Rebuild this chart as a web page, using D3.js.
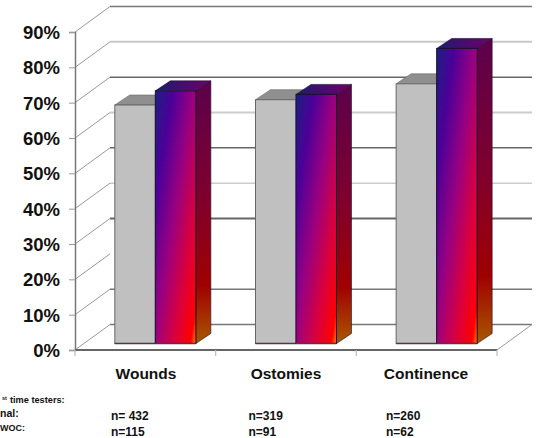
<!DOCTYPE html>
<html>
<head>
<meta charset="utf-8">
<script src="https://cdn.jsdelivr.net/npm/d3@7"></script>
<style>
  html, body { margin: 0; padding: 0; background: #fff; overflow: hidden; }
  text { font-family: "Liberation Sans", Arial, sans-serif; font-weight: bold; fill: #111; }
</style>
</head>
<body>
<script>
// values
const categories = ["Wounds", "Ostomies", "Continence"];
const series1 = [67.5, 69, 73.5];
const series2 = [71.5, 70.5, 83.5];
const ticks = [0, 10, 20, 30, 40, 50, 60, 70, 80, 90];
const line1 = ["n= 432", "n=319", "n=260"];
const line2 = ["n=115", "n=91", "n=62"];
const rowLabels = ["time testers:", "nal:", "WOC:"];

const width = 536, height = 438;
// how far the back wall sits behind the front plane
const wallDx = 35, wallDy = -25.5;
// the bars stand a little way in from the front edge
const barDy = -6.5;
const sideDx = 15, sideDy = -10;

const svg = d3.select("body").append("svg")
  .attr("width", width)
  .attr("height", height)
  .style("display", "block");

const y = d3.scaleLinear().domain([0, 90]).range([350, 32]);
const x = d3.scaleBand().domain(categories).range([85, 507])
  .paddingInner(0.424).paddingOuter(0.212);
const x1 = d3.scaleBand().domain([0, 1]).range([0, x.bandwidth()]);
const floorX = d3.scaleLinear().domain([0, 1]).range([75, 497]);

// gradients
const defs = svg.append("defs");
function gradient(id, stops, x2, y2) {
  const g = defs.append("linearGradient").attr("id", id)
    .attr("x1", 0).attr("y1", 0).attr("x2", x2).attr("y2", y2);
  stops.forEach(s => g.append("stop").attr("offset", s[0]).attr("stop-color", s[1]));
}
gradient("front", [[0, "#1c2080"], [0.22, "#4c0098"], [0.48, "#9a0080"], [0.72, "#d80040"], [0.93, "#ff0000"], [1, "#ff8000"]], 1, 1);
gradient("side", [[0, "#5c004c"], [0.45, "#80002c"], [0.78, "#a00000"], [1, "#a85800"]], 0, 1);
gradient("top", [[0, "#1c1c70"], [1, "#700068"]], 1, 0);

// back wall lines and their slanted ends on the left wall
const lineStyle = {0: ["#777", 1.5], 10: ["#777", 1.5], 20: ["none", 0], 30: ["#666", 2], 40: ["#cccccc", 1.5],
  50: ["#666", 1.5], 60: ["#cccccc", 2], 70: ["#666", 1.5], 80: ["#c8c8c8", 2], 90: ["#777", 1.5]};
const wall = svg.append("g");
wall.selectAll(".grid").data(ticks).enter().append("line")
  .attr("x1", floorX(0) + wallDx)
  .attr("x2", floorX(1) + wallDx)
  .attr("y1", d => y(d) + wallDy)
  .attr("y2", d => y(d) + wallDy)
  .attr("stroke", d => lineStyle[d][0])
  .attr("stroke-width", d => lineStyle[d][1]);
wall.selectAll(".slant").data(ticks).enter().append("line")
  .attr("x1", floorX(0))
  .attr("x2", floorX(0) + wallDx)
  .attr("y1", d => y(d))
  .attr("y2", d => y(d) + wallDy)
  .attr("stroke", "#999")
  .attr("stroke-width", 1);
// right end of the floor
wall.append("line")
  .attr("x1", floorX(1)).attr("x2", floorX(1) + wallDx)
  .attr("y1", y(0)).attr("y2", y(0) + wallDy)
  .attr("stroke", "#999").attr("stroke-width", 1);

// value axis
const yAxis = d3.axisLeft(y).tickValues(ticks).tickSize(6).tickPadding(9)
  .tickFormat(d => d + "%");
const axisG = svg.append("g").attr("transform", `translate(${floorX(0)},0)`).call(yAxis);
axisG.select(".domain").attr("stroke", "#777").attr("stroke-width", 1.5);
axisG.selectAll(".tick line").attr("stroke", "#999").attr("stroke-width", 1);
axisG.selectAll(".tick text").attr("font-size", 18.5).attr("fill", "#111").attr("dy", "0.35em")
  .style("font-family", '"Liberation Sans", Arial, sans-serif').style("font-weight", "bold");

// floor front edge
svg.append("line")
  .attr("x1", floorX(0)).attr("x2", floorX(1))
  .attr("y1", y(0)).attr("y2", y(0))
  .attr("stroke", "#666").attr("stroke-width", 2);
svg.selectAll(".sep").data([0, 1 / 3, 2 / 3, 1]).enter().append("line")
  .attr("x1", d => floorX(d)).attr("x2", d => floorX(d))
  .attr("y1", y(0)).attr("y2", y(0) + 6)
  .attr("stroke", "#bbb").attr("stroke-width", 1.2);

// draws one 3D bar: side, top, then front
function bar(g, i, value, front, topFill, sideFill, edge) {
  const left = x(categories[i]) + x1(g.datum());
  const w = x1.bandwidth();
  const top = y(value) + barDy, base = y(0) + barDy;
  const el = g.append("g");
  el.append("path")
    .attr("d", `M${left + w},${top}L${left + w + sideDx},${top + sideDy}L${left + w + sideDx},${base + sideDy}L${left + w},${base}Z`)
    .attr("fill", sideFill).attr("stroke", edge).attr("stroke-width", 0.6);
  el.append("path")
    .attr("d", `M${left},${top}L${left + sideDx},${top + sideDy}L${left + w + sideDx},${top + sideDy}L${left + w},${top}Z`)
    .attr("fill", topFill).attr("stroke", edge).attr("stroke-width", 0.6);
  el.append("rect")
    .attr("x", left).attr("y", top).attr("width", w).attr("height", base - top)
    .attr("fill", front).attr("stroke", edge).attr("stroke-width", 1);
  // darker foot along the bottom of the bar
  el.append("line")
    .attr("x1", left).attr("x2", left + w)
    .attr("y1", base).attr("y2", base)
    .attr("stroke", "#4a3a4a").attr("stroke-width", 1.6);
}

const groups = svg.selectAll(".cat").data(categories).enter().append("g");
groups.each(function (c, i) {
  const sel = d3.select(this);
  const a = sel.append("g").datum(0);
  const b = sel.append("g").datum(1);
  bar(a, i, series1[i], "#c0c0c0", "#8f8f8f", "#777", "#666");
  bar(b, i, series2[i], "url(#front)", "url(#top)", "url(#side)", "#1c1030");
});

// category labels
const labelX = d3.scaleBand().domain(categories).range([76, 496]);
svg.selectAll(".cat-label").data(categories).enter().append("text")
  .attr("x", d => labelX(d) + labelX.bandwidth() / 2)
  .attr("y", 379)
  .attr("text-anchor", "middle")
  .attr("font-size", 15.5)
  .text(d => d);

// n= rows
const nX = d3.scaleBand().domain(categories).range([111, 523.5]);
[[line1, 420], [line2, 436]].forEach(row => {
  svg.selectAll(null).data(row[0]).enter().append("text")
    .attr("x", (d, i) => nX(categories[i]))
    .attr("y", row[1])
    .attr("font-size", 12)
    .text(d => d);
});

// row labels at the left edge
svg.append("text").attr("x", 2).attr("y", 400).attr("font-size", 5.5).text("st");
svg.append("text").attr("x", 10).attr("y", 403).attr("font-size", 9.2).text(rowLabels[0]);
svg.append("text").attr("x", 0).attr("y", 417).attr("font-size", 10.5).text(rowLabels[1]);
svg.append("text").attr("x", 0).attr("y", 431).attr("font-size", 9).text(rowLabels[2]);
</script>
</body>
</html>
